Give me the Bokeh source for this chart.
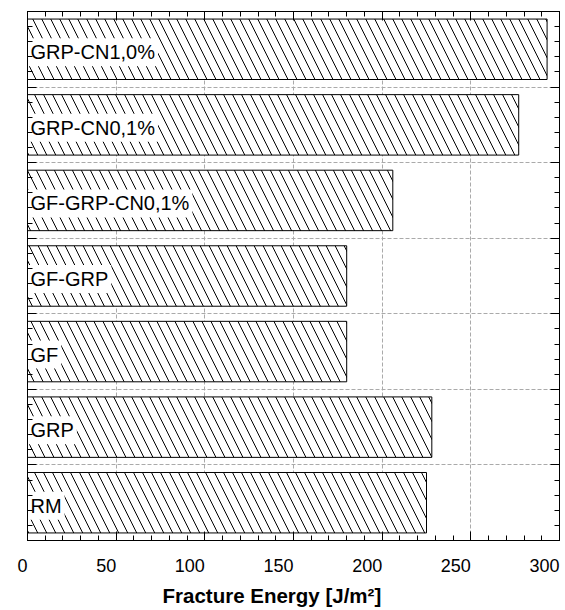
from bokeh.plotting import figure
from bokeh.models import ColumnDataSource, FixedTicker, LinearAxis, Range1d, Title
from bokeh.core.properties import value
from bokeh.embed import file_html
from bokeh.resources import INLINE

# ---- data (bottom to top) ----
categories = ["RM", "GRP", "GF", "GF-GRP", "GF-GRP-CN0,1%", "GRP-CN0,1%", "GRP-CN1,0%"]
fracture_energy = [225, 228, 180, 180, 206, 277, 293]
x_ticks = [0, 50, 100, 150, 200, 250, 300]
x_label = "Fracture Energy [J/m\u00b2]"

n = len(categories)
positions = [i + 0.5 for i in range(n)]
src = ColumnDataSource(dict(cat=categories, y=positions, val=fracture_energy,
                            x0=[0] * n))

FONT = "Liberation Sans"

p = figure(width=565, height=610, x_range=Range1d(0, 300), y_range=Range1d(0, n),
           output_backend="svg", toolbar_location=None,
           min_border_left=27, min_border_right=6, min_border_top=11,
           min_border_bottom=70)
p.background_fill_color = "white"
p.border_fill_color = "white"
p.outline_line_color = "black"
p.outline_line_width = 1

# grid
p.xgrid.ticker = FixedTicker(ticks=x_ticks[1:-1])
p.ygrid.ticker = FixedTicker(ticks=list(range(1, n)))
for g in (p.xgrid, p.ygrid):
    g.grid_line_color = "#aaaaaa"
    g.grid_line_dash = "4 2"
    g.grid_line_width = 1

# bars
p.hbar(y="y", left="x0", right="val", height=0.8, source=src,
       fill_color="white", line_color="black", line_width=1,
       hatch_pattern="\\", hatch_scale=18, hatch_color="black", hatch_weight=1)

# category labels inside bars
p.text(x="x0", y="y", text="cat", source=src, x_offset=0, y_offset=3,
       text_align="left", text_baseline="middle",
       text_font=value(FONT), text_font_size="20px", text_color="black",
       background_fill_color="white", padding=3)


def style_tick_axis(ax, labels=False):
    if not labels:
        ax.major_label_text_color = None
        ax.major_label_text_font_size = "0px"
        ax.major_label_standoff = 0
    ax.major_tick_in = 9
    ax.major_tick_out = 0
    ax.minor_tick_in = 5
    ax.minor_tick_out = 0
    ax.axis_line_color = "black"
    ax.major_tick_line_color = "black"
    ax.minor_tick_line_color = "black"


def x_ticker():
    return FixedTicker(ticks=x_ticks, minor_ticks=list(range(0, 301, 10)))


def y_ticker():
    return FixedTicker(ticks=list(range(0, n + 1)),
                       minor_ticks=[round(i * 0.2, 2) for i in range(n * 5 + 1)])


# bottom axis: ticks + labels (labels end at their tick, as in the original)
xa = p.xaxis[0]
xa.ticker = x_ticker()
style_tick_axis(xa, labels=True)
xa.major_label_orientation = 0.0001
xa.major_label_standoff = 25
xa.major_label_text_font = FONT
xa.major_label_text_font_size = "18px"
xa.major_label_text_color = "black"

p.yaxis.ticker = y_ticker()
style_tick_axis(p.yaxis[0])

top = LinearAxis(ticker=x_ticker())
style_tick_axis(top)
p.add_layout(top, "above")
right = LinearAxis(ticker=y_ticker())
style_tick_axis(right)
p.add_layout(right, "right")

title = Title(text=x_label, align="left", offset=135, text_font=FONT,
              text_font_size="20.5px", text_font_style="bold", text_color="black",
              standoff=0)
p.add_layout(title, "below")

open("out.html", "w").write(file_html(p, INLINE))
